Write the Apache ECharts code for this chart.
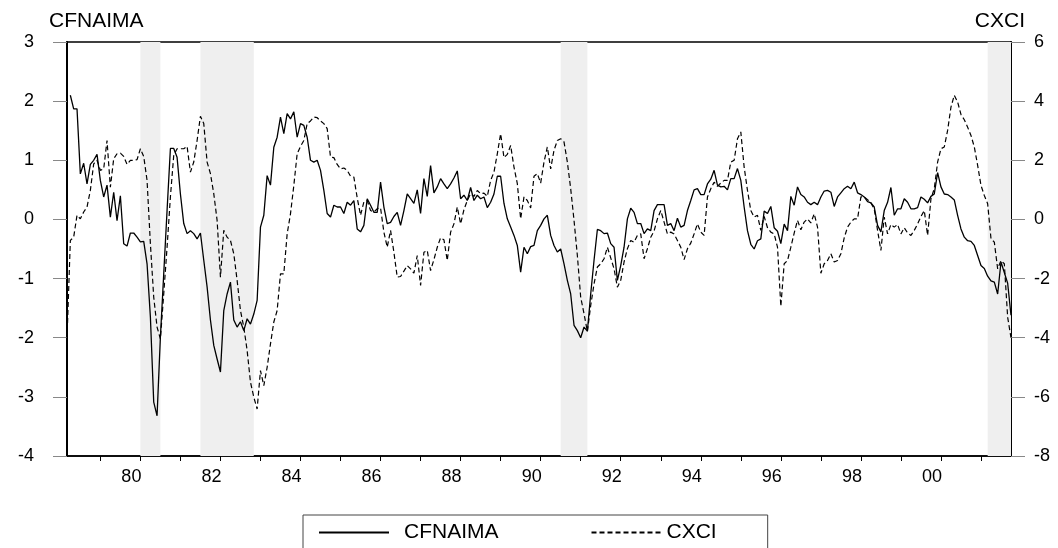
<!DOCTYPE html>
<html>
<head>
<meta charset="utf-8">
<script src="https://cdn.jsdelivr.net/npm/echarts@6/dist/echarts.min.js"></script>
<style>
  html, body { margin: 0; padding: 0; background: #fff; }
  #chart { width: 1058px; height: 548px; }
</style>
</head>
<body>
<div id="chart"></div>
<script>
// Monthly observations, March 1978 to October 2001
const startYear = 1978;
const startMonth = 3;

// Chicago Fed National Activity Index, 3-month moving average (left axis)
const cfnaima = [
  null, 2.10, 1.87, 1.87, 0.77, 0.95, 0.60, 0.93, 1.00, 1.10,
  0.66, 0.38, 0.58, 0.04, 0.46, -0.02, 0.40, -0.41, -0.45, -0.23, -0.23, -0.30,
  -0.38, -0.37, -0.75, -1.65, -3.09, -3.32, -1.99, -0.92, 0.15, 1.20, 1.20, 1.05,
  0.43, -0.07, -0.24, -0.19, -0.24, -0.33, -0.23, -0.69, -1.14, -1.70, -2.13, -2.36,
  -2.58, -1.54, -1.26, -1.06, -1.70, -1.82, -1.73, -1.88, -1.68, -1.77, -1.60, -1.37,
  -0.13, 0.07, 0.74, 0.58, 1.22, 1.39, 1.73, 1.45, 1.79, 1.70, 1.82, 1.39,
  1.62, 1.59, 1.39, 1.00, 0.97, 1.00, 0.83, 0.49, 0.10, 0.04, 0.24, 0.21,
  0.21, 0.10, 0.29, 0.24, 0.32, -0.16, -0.21, -0.10, 0.35, 0.24, 0.12, 0.12,
  0.63, 0.21, -0.07, -0.05, 0.05, 0.12, -0.10, 0.15, 0.43, 0.35, 0.27, 0.50,
  0.10, 0.69, 0.39, 0.91, 0.45, 0.55, 0.69, 0.60, 0.52, 0.60, 0.70, 0.82,
  0.35, 0.41, 0.32, 0.54, 0.32, 0.41, 0.35, 0.38, 0.20, 0.29, 0.43, 0.73,
  0.73, 0.27, 0.01, -0.13, -0.27, -0.44, -0.89, -0.47, -0.58, -0.46, -0.44, -0.19,
  -0.10, 0.01, 0.07, -0.27, -0.44, -0.55, -0.50, -0.75, -1.03, -1.26, -1.79, -1.88,
  -2.00, -1.82, -1.89, -1.26, -0.69, -0.17, -0.19, -0.24, -0.23, -0.41, -0.47, -1.03,
  -0.78, -0.47, 0.01, 0.19, 0.12, -0.07, -0.07, -0.24, -0.16, -0.19, 0.15, 0.25,
  0.25, 0.25, -0.10, -0.07, -0.19, 0.02, -0.13, -0.10, 0.15, 0.32, 0.50, 0.52,
  0.42, 0.42, 0.60, 0.68, 0.83, 0.58, 0.55, 0.56, 0.50, 0.69, 0.69, 0.86,
  0.66, 0.21, -0.19, -0.42, -0.50, -0.36, -0.33, 0.14, 0.10, 0.22, -0.14, -0.20,
  -0.41, -0.08, -0.19, 0.39, 0.24, 0.55, 0.42, 0.38, 0.29, 0.25, 0.29, 0.25,
  0.38, 0.48, 0.49, 0.46, 0.22, 0.38, 0.45, 0.52, 0.56, 0.52, 0.63, 0.45,
  0.42, 0.38, 0.30, 0.28, 0.21, -0.10, -0.21, 0.15, 0.29, 0.54, 0.07, 0.18,
  0.18, 0.35, 0.29, 0.18, 0.18, 0.20, 0.38, 0.34, 0.28, 0.39, 0.43, 0.79,
  0.55, 0.43, 0.42, 0.38, 0.33, 0.07, -0.16, -0.30, -0.36, -0.37, -0.44, -0.61,
  -0.78, -0.83, -0.96, -1.04, -1.06, -1.26, -0.72, -0.90, -1.08, -1.62
];

// Coincident index growth (right axis)
const cxci = [
  -4.04, -0.71, -0.60, 0.14, 0.02, 0.25, 0.42, 0.98, 1.88, 2.00,
  1.66, 1.71, 2.67, 1.09, 2.05, 2.22, 2.24, 2.13, 1.86, 2.00, 2.00, 2.02,
  2.39, 2.13, 1.32, -0.82, -2.63, -3.64, -4.04, -2.52, -0.94, 0.76, 2.17, 2.39,
  2.39, 2.39, 2.47, 1.60, 1.94, 2.67, 3.49, 3.24, 1.94, 1.55, 0.87, -0.03,
  -1.95, -0.37, -0.60, -0.71, -1.16, -2.06, -3.08, -3.64, -4.43, -5.50, -6.01, -6.41,
  -5.11, -5.62, -5.00, -4.21, -3.47, -3.08, -1.84, -1.84, -0.49, 0.19, 1.15, 2.22,
  2.47, 2.67, 3.24, 3.33, 3.46, 3.44, 3.33, 3.24, 3.07, 2.11, 2.09, 1.86,
  1.71, 1.74, 1.66, 1.46, 1.43, 0.73, 0.14, 0.59, 0.64, 0.30, 0.25, 0.36,
  0.39, -0.43, -0.94, -0.37, -1.11, -1.95, -1.93, -1.75, -1.56, -1.67, -1.82, -1.22,
  -2.23, -1.11, -1.05, -1.73, -1.36, -0.94, -0.62, -0.69, -1.39, -0.43, -0.15, 0.42,
  -0.15, 0.33, 0.64, 0.87, 0.78, 0.98, 0.87, 0.89, 0.78, 1.32, 1.60, 2.22,
  2.90, 2.09, 2.20, 2.50, 1.77, 1.21, 0.02, 0.76, 0.64, 0.39, 1.46, 1.55,
  1.23, 1.94, 2.45, 1.71, 2.34, 2.67, 2.73, 2.62, 1.94, 1.04, -0.03, -1.22,
  -2.63, -3.19, -3.79, -2.91, -2.18, -1.61, -1.50, -1.33, -0.94, -1.30, -1.67, -2.29,
  -2.06, -1.44, -0.99, -0.71, -0.77, -0.54, -0.49, -1.33, -0.99, -0.60, -0.39, 0.02,
  0.30, -0.09, -0.49, -0.43, -0.49, -0.71, -0.94, -1.36, -0.99, -0.80, -0.49, -0.15,
  -0.43, -0.54, 0.76, 1.04, 1.26, 1.12, 1.23, 1.32, 1.32, 1.94, 2.00, 2.73,
  2.96, 1.77, 0.98, 0.30, 0.08, 0.14, -0.37, 0.10, -0.28, -0.43, -0.49, -0.94,
  -2.94, -1.50, -1.39, -0.94, -0.46, -0.03, -0.35, -0.09, 0.02, -0.12, 0.19, -0.26,
  -1.82, -1.50, -1.39, -1.16, -1.44, -1.39, -1.16, -0.62, -0.26, -0.09, 0.02, 0.02,
  0.76, 0.76, 0.67, 0.56, 0.36, -0.37, -1.05, 0.08, -0.49, -0.17, -0.26, -0.17,
  -0.49, -0.28, -0.46, -0.54, -0.37, -0.15, 0.10, 0.30, -0.54, 0.70, 1.04, 1.94,
  2.39, 2.45, 3.01, 3.80, 4.20, 3.97, 3.55, 3.37, 3.12, 2.84, 2.45, 1.83,
  1.15, 0.81, 0.53, -0.65, -0.77, -1.67, -1.39, -1.50, -3.31, -4.00
];

// NBER recessions as [start, end] in fractional years
const recessions = [
  [1980.0, 1980.5],
  [1981.5, 1982.833],
  [1990.5, 1991.167],
  [2001.167, 2001.75]
];

// Year tick marks and the two-digit year labels
const yearTicks = [1979, 1980, 1981, 1982, 1983, 1984, 1985, 1986, 1987, 1988, 1989,
  1990, 1991, 1992, 1993, 1994, 1995, 1996, 1997, 1998, 1999, 2000, 2001];
const yearLabels = [1980, 1982, 1984, 1986, 1988, 1990, 1992, 1994, 1996, 1998, 2000];

const FONT = '"Liberation Sans", Arial, Helvetica, sans-serif';

function monthTime(i) {
  return startYear + (startMonth - 1 + i) / 12;
}

const cfnaimaPoints = cfnaima.map((v, i) => [monthTime(i), v]);
const cxciPoints = cxci.map((v, i) => [monthTime(i), v]);

const chart = echarts.init(document.getElementById('chart'), null, { renderer: 'canvas' });

chart.setOption({
  animation: false,
  backgroundColor: '#fff',
  textStyle: { fontFamily: FONT, color: '#000' },
  grid: {
    left: 67, right: 47, top: 42, bottom: 92,
    show: true, borderColor: '#000', borderWidth: 1.5, backgroundColor: 'transparent'
  },
  xAxis: {
    type: 'value',
    min: monthTime(0),
    max: monthTime(cxci.length - 1),
    axisLine: { show: true, onZero: false, lineStyle: { color: '#000', width: 1.5 } },
    axisTick: { show: true, inside: false, length: 5, lineStyle: { color: '#000', width: 1 }, customValues: yearTicks },
    axisLabel: {
      customValues: yearLabels,
      formatter: v => String(Math.round(v) % 100).padStart(2, '0'),
      fontSize: 18, color: '#000', fontFamily: FONT,
      margin: 12, padding: [0, 18, 0, 0]
    },
    splitLine: { show: false }
  },
  yAxis: [
    {
      type: 'value', position: 'left', min: -4, max: 3, interval: 1,
      axisLine: { show: true, onZero: false, lineStyle: { color: '#000', width: 2 } },
      axisTick: { show: true, length: 14, lineStyle: { color: '#888', width: 1 } },
      axisLabel: { margin: 33, fontSize: 18, color: '#000', fontFamily: FONT },
      splitLine: { show: false }
    },
    {
      type: 'value', position: 'right', min: -8, max: 6, interval: 2,
      axisLine: { show: true, onZero: false, lineStyle: { color: '#000', width: 2 } },
      axisTick: { show: true, length: 14, lineStyle: { color: '#888', width: 1 } },
      axisLabel: { margin: 23, fontSize: 18, color: '#000', fontFamily: FONT },
      splitLine: { show: false }
    }
  ],
  legend: {
    left: 303, top: 515,
    orient: 'horizontal',
    padding: [7, 51, 20, 15],
    itemGap: 92, itemWidth: 70, itemHeight: 14,
    borderColor: '#444', borderWidth: 1,
    itemStyle: { opacity: 0 },
    textStyle: { fontSize: 21, color: '#000', fontFamily: FONT },
    data: [
      { name: 'CFNAIMA', textStyle: { padding: [0, 0, 0, 10] } },
      { name: 'CXCI' }
    ]
  },
  graphic: [
    { type: 'text', left: 49, top: 11, style: { text: 'CFNAIMA', font: '21px ' + FONT, fill: '#000' } },
    { type: 'text', right: 33, top: 11, style: { text: 'CXCI', font: '21px ' + FONT, fill: '#000' } }
  ],
  series: [
    {
      name: 'CFNAIMA', type: 'line', yAxisIndex: 0,
      data: cfnaimaPoints, symbol: 'none', connectNulls: false,
      lineStyle: { color: '#000', width: 1.3 }, itemStyle: { color: '#000' },
      z: 3,
      markArea: {
        silent: true,
        itemStyle: { color: '#efefef' },
        data: recessions.map(r => [{ xAxis: r[0] }, { xAxis: r[1] }])
      }
    },
    {
      name: 'CXCI', type: 'line', yAxisIndex: 1,
      data: cxciPoints, symbol: 'none',
      lineStyle: { color: '#000', width: 1.2, type: [5, 3] }, itemStyle: { color: '#000' },
      z: 3
    }
  ]
});
</script>
</body>
</html>
